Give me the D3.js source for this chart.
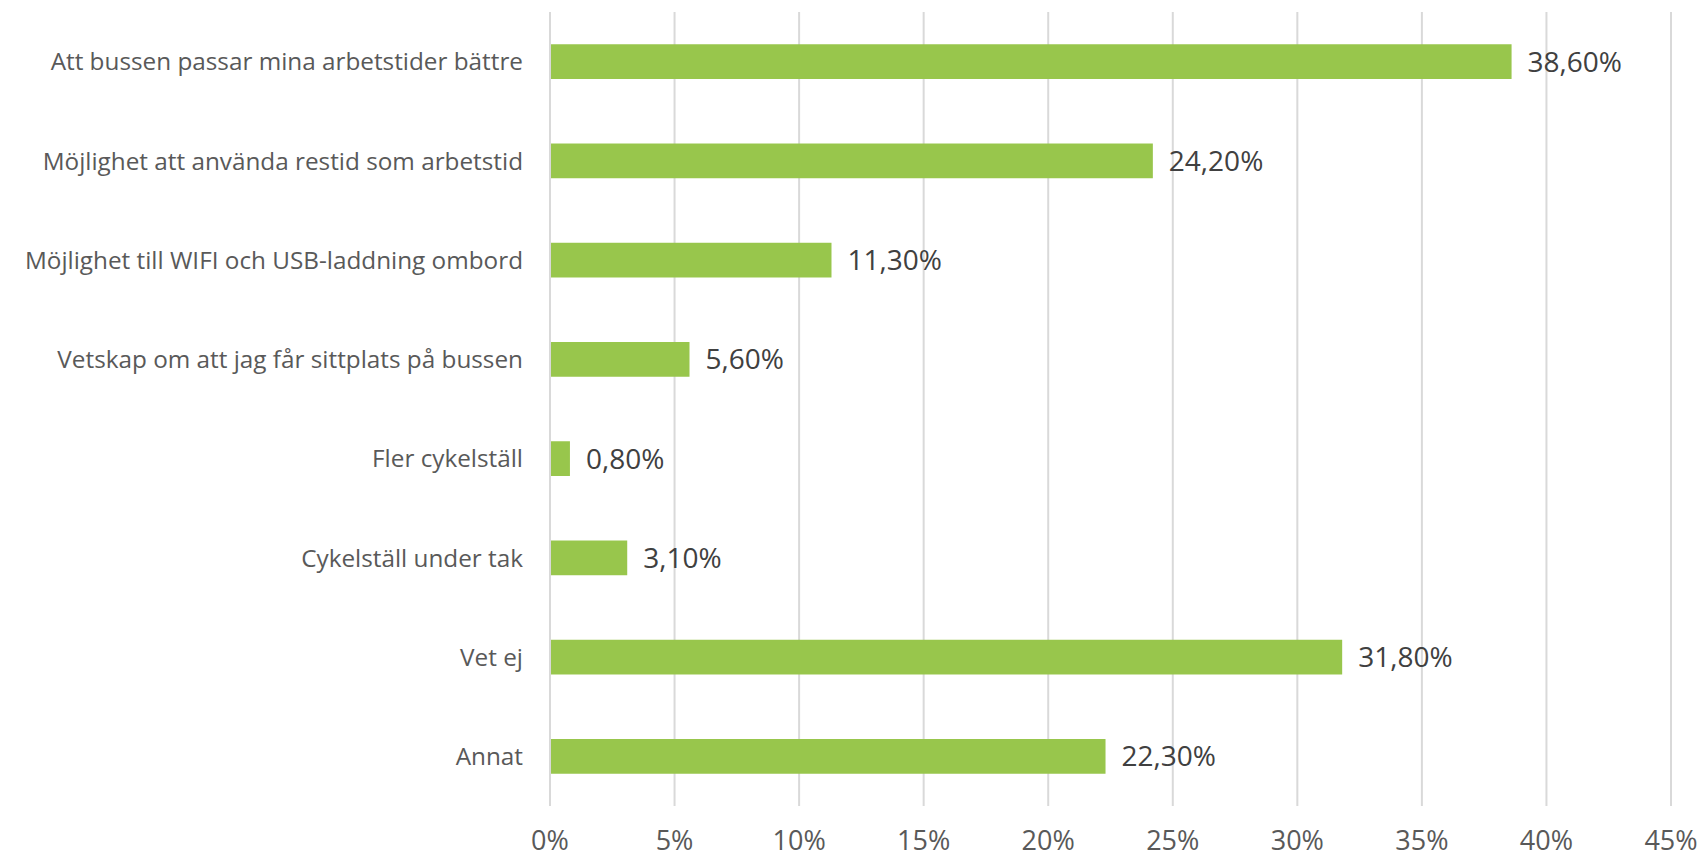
<!DOCTYPE html>
<html><head><meta charset="utf-8">
<script src="https://cdn.jsdelivr.net/npm/d3@7"></script>
<style>body{margin:0;background:#fff}svg{display:block}</style>
</head><body>
<svg id="c" width="1704" height="858"></svg>
<script>
const categories = ["Att bussen passar mina arbetstider bättre","Möjlighet att använda restid som arbetstid","Möjlighet till WIFI och USB-laddning ombord","Vetskap om att jag får sittplats på bussen","Fler cykelställ","Cykelställ under tak","Vet ej","Annat"];
const values = [38.6, 24.2, 11.3, 5.6, 0.8, 3.1, 31.8, 22.3];
const valueLabels = ["38,60%","24,20%","11,30%","5,60%","0,80%","3,10%","31,80%","22,30%"];
const ticks = [0,5,10,15,20,25,30,35,40,45];
const tickLabels = ["0%","5%","10%","15%","20%","25%","30%","35%","40%","45%"];

(function(){
const svg = d3.select("#c");
const pL = 550, pR = 1671, pT = 12, pB = 806;
const x = d3.scaleLinear().domain([0,45]).range([pL,pR]);
const y = d3.scaleBand().domain(categories).range([pT,pB]).paddingInner(0.65).paddingOuter(0.325);
const font = "'Open Sans', sans-serif";

svg.append("g").selectAll("line").data(ticks).join("line")
  .attr("x1",d=>x(d)).attr("x2",d=>x(d)).attr("y1",pT).attr("y2",pB)
  .attr("stroke","#d9d9d9").attr("stroke-width",2);

svg.append("g").selectAll("rect").data(values).join("rect")
  .attr("x",x(0)+1).attr("y",(d,i)=>y(categories[i]))
  .attr("width",d=>x(d)-x(0)-1).attr("height",y.bandwidth())
  .attr("fill","#98c64c");

svg.append("g").selectAll("text").data(values).join("text")
  .attr("x",d=>x(d)+16).attr("y",(d,i)=>y(categories[i])+y.bandwidth()/2)
  .attr("dy","0.36em").attr("font-family",font).attr("font-size",28).attr("fill","#404040")
  .text((d,i)=>valueLabels[i]);

svg.append("g").selectAll("text").data(categories).join("text")
  .attr("x",523).attr("y",d=>y(d)+y.bandwidth()/2).attr("dy","0.36em")
  .attr("text-anchor","end").attr("font-family",font).attr("font-size",24.3).attr("fill","#595959")
  .text(d=>d);

svg.append("g").selectAll("text").data(ticks).join("text")
  .attr("x",d=>x(d)).attr("y",850).attr("text-anchor","middle")
  .attr("font-family",font).attr("font-size",27).attr("fill","#595959")
  .text((d,i)=>tickLabels[i]);
})();
</script>
</body></html>
